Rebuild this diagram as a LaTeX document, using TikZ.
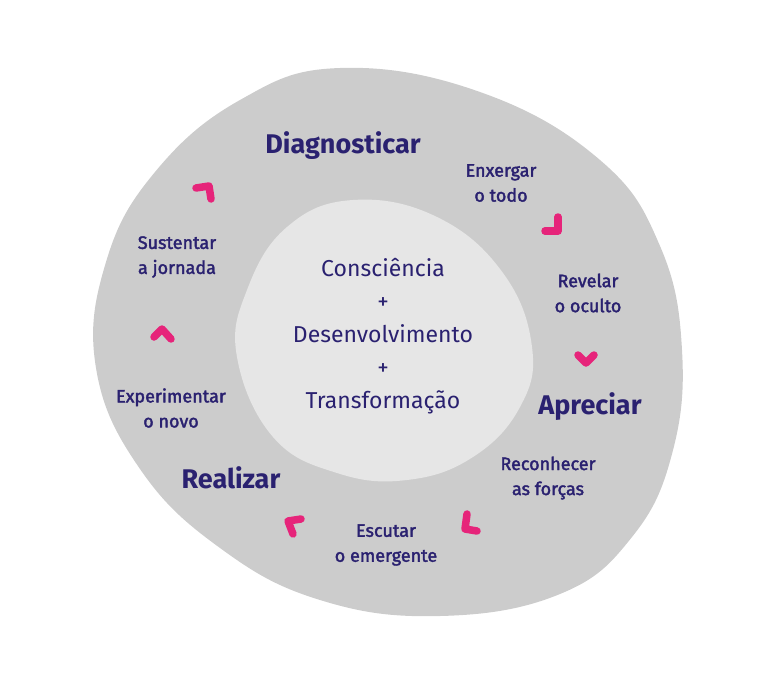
\documentclass[tikz,border=0pt]{standalone}
\usepackage{fontspec}
\setmainfont{Fira Sans}
\newfontfamily\medio[FakeBold=2]{Fira Sans}
\usepackage{xcolor}
\usetikzlibrary{positioning}
\definecolor{tinta}{HTML}{2A2170}
\definecolor{rosa}{HTML}{E6247A}
\definecolor{cinza}{HTML}{CCCCCC}
\definecolor{claro}{HTML}{E6E6E6}

\tikzset{
  fase/.style={text=tinta, inner sep=0pt, font=\bfseries\fontsize{27}{30}\selectfont},
  acao/.style={text=tinta, inner sep=0pt, align=center, font=\medio\fontsize{18}{25}\selectfont},
  nucleo/.style={text=tinta, inner sep=0pt, align=center, font=\fontsize{23}{33}\selectfont},
  seta/.style={draw=rosa, line width=7.5pt, line cap=round, line join=round}
}

\begin{document}
\begin{tikzpicture}[x=1pt, y=-1pt]
  \useasboundingbox (0,0) rectangle (768,677);
  % outer and inner blobs
  \fill[cinza] plot[smooth cycle, tension=0.7] coordinates {
    (340,68) (480,92) (600,160) (660,246) (682,350) (672,454) (632,537)
    (560,594) (440,616) (320,600) (220,548) (140,469) (96,368) (106,262)
    (155,172) (240,100)};
  \fill[claro] plot[smooth cycle, tension=0.7] coordinates {
    (353,200) (437,217) (503,273) (532,347) (520,407) (473,457) (407,480)
    (337,473) (273,437) (237,357) (247,290) (287,227)};
  % centre
  \node[nucleo] (centro) at (383,336) {Consciência\\+\\Desenvolvimento\\+\\Transformação};
  % phases
  \node[fase] (diag) at (343,146) {Diagnosticar};
  \node[fase] (apre) at (590,407) {Apreciar};
  \node[fase] (real) at (231,478) {Realizar};
  % actions
  \node[acao] (enx) at (501,183) {Enxergar\\o todo};
  \node[acao] (rev) at (588,293) {Revelar\\o oculto};
  \node[acao] (rec) at (548,478) {Reconhecer\\as forças};
  \node[acao] (esc) at (386,545) {Escutar\\o emergente};
  \node[acao] (exp) at (171,408) {Experimentar\\o novo};
  \node[acao] (sus) at (177,257) {Sustentar\\a jornada};
  % chevrons
  \foreach \ax/\ay/\bx/\by/\cx/\cy in {196/188/209/186/211/199, 558/217/558/231/545/231,
      578/355/586/363/594/355, 467/514/465/529/477/531, 301/519/288/521/293/534,
      154/337/162/329/171/339}
    \draw[seta] (\ax,\ay) -- (\bx,\by) -- (\cx,\cy);
\end{tikzpicture}
\end{document}
